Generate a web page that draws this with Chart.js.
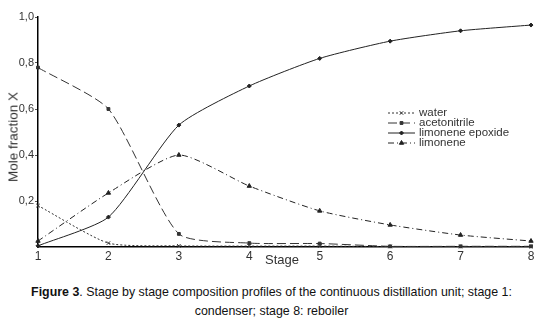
<!DOCTYPE html>
<html><head><meta charset="utf-8">
<script src="https://cdn.jsdelivr.net/npm/chart.js@4/dist/chart.umd.min.js"></script>
<style>
html,body{margin:0;padding:0;background:#fff;}
#wrap{position:relative;width:543px;height:321px;font-family:"Liberation Sans",Arial,sans-serif;}
#c{position:absolute;left:0;top:0;}
.t{position:absolute;color:#333;white-space:nowrap;}
</style></head><body>
<div id="wrap">
<canvas id="c" width="543" height="275"></canvas>
<div class="t" style="left:0;top:252px;width:543px;text-align:left;"><span style="position:absolute;left:265px;font-size:13px;">Stage</span></div>
<div class="t" style="left:13px;top:137px;font-size:13.5px;transform:translate(-50%,-50%) rotate(-90deg);">Mole fraction X</div>
<div class="t" style="left:0;top:285px;width:543px;text-align:center;font-size:12.4px;color:#111;"><b>Figure 3</b>. Stage by stage composition profiles of the continuous distillation unit; stage 1:</div>
<div class="t" style="left:0;top:304px;width:543px;text-align:center;font-size:12.4px;color:#111;">condenser; stage 8: reboiler</div>
</div>
<script>
const stages = ["1","2","3","4","5","6","7","8"];
const water = [0.18, 0.017, 0.005, 0.004, 0.004, 0.002, 0.002, 0.002];
const acetonitrile = [0.78, 0.60, 0.057, 0.017, 0.015, 0.003, 0.003, 0.003];
const limoneneEpoxide = [0.005, 0.13, 0.53, 0.70, 0.82, 0.895, 0.94, 0.965];
const limonene = [0.026, 0.235, 0.40, 0.265, 0.157, 0.096, 0.052, 0.026];
const yTicks = [0.2, 0.4, 0.6, 0.8, 1.0];

const ds = (label, data, dash, style, color, r) => ({
  label, data, borderColor: color, backgroundColor: color, borderWidth: 1,
  borderDash: dash, pointStyle: style, pointRadius: r, pointBorderWidth: 1,
  pointBorderColor: color, pointBackgroundColor: color, tension: 0.2, clip: false
});

const legendPlugin = {
  id: 'inlegend',
  afterDatasetsDraw(chart) {
    const ctx = chart.ctx;
    const x0 = 388, x1 = 415, tx = 419;
    const ys = [113, 123, 133, 143];
    chart.data.datasets.forEach((d, i) => {
      const y = ys[i];
      ctx.save();
      ctx.strokeStyle = d.borderColor; ctx.lineWidth = 1;
      ctx.setLineDash(d.borderDash);
      ctx.beginPath(); ctx.moveTo(x0, y); ctx.lineTo(x1, y); ctx.stroke();
      ctx.setLineDash([]);
      ctx.fillStyle = d.borderColor;
      Chart.helpers.drawPoint(ctx, {pointStyle: d.pointStyle, radius: d.pointRadius, borderWidth: 1}, (x0 + x1) / 2, y);
      ctx.fillStyle = '#333';
      ctx.font = '11.5px "Liberation Sans", Arial, sans-serif';
      ctx.textBaseline = 'middle';
      ctx.fillText(d.label, tx, y);
      ctx.restore();
    });
  }
};

new Chart(document.getElementById('c'), {
  type: 'line',
  data: {
    labels: stages,
    datasets: [
      ds('water', water, [2, 2], 'crossRot', '#333', 2.5),
      ds('acetonitrile', acetonitrile, [9, 4], 'rect', '#333', 2),
      ds('limonene epoxide', limoneneEpoxide, [], 'rectRot', '#222', 2),
      ds('limonene', limonene, [6, 3, 1, 3], 'triangle', '#222', 2.5)
    ]
  },
  options: {
    responsive: false, animation: false, devicePixelRatio: 1,
    layout: {padding: {top: 17, right: 12, left: 0, bottom: 0}},
    plugins: {legend: {display: false}, tooltip: {enabled: false}},
    scales: {
      x: {
        offset: false,
        afterFit(s) { s.height = 28; },
        grid: {display: false, drawTicks: false},
        border: {display: true, color: '#000', width: 1.5},
        ticks: {padding: 2, color: '#333', font: {size: 12, family: '"Liberation Sans", Arial, sans-serif'}, maxRotation: 0, autoSkip: false}
      },
      y: {
        min: 0, max: 1.0,
        afterFit(s) { s.width = 38; },
        afterBuildTicks(s) { s.ticks = yTicks.map(v => ({value: v})); },
        grid: {display: true, drawOnChartArea: false, tickLength: 3, color: '#555'},
        border: {display: true, color: '#000', width: 1.5},
        ticks: {padding: 1, color: '#333', font: {size: 11, family: '"Liberation Sans", Arial, sans-serif'},
          callback: v => v.toFixed(1).replace('.', ',')}
      }
    }
  },
  plugins: [legendPlugin]
});
</script>
</body></html>
